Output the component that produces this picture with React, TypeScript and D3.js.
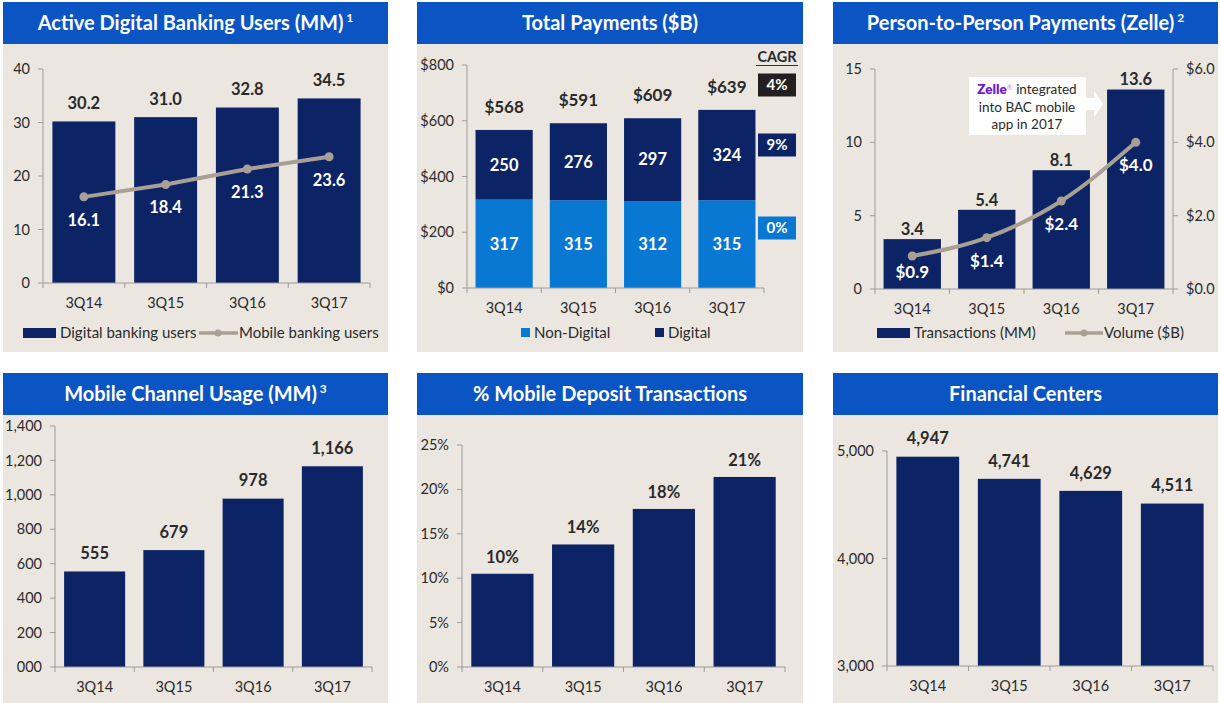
import React from 'react';
import * as d3 from 'd3';

// ---------- DATA ----------
const categories = ['3Q14', '3Q15', '3Q16', '3Q17'];

const digitalUsers = [30.2, 31.0, 32.8, 34.5];
const mobileUsers = [16.1, 18.4, 21.3, 23.6];
const usersTicks = [0, 10, 20, 30, 40];

const nonDigitalPayments = [317, 315, 312, 315];
const digitalPayments = [250, 276, 297, 324];
const totalPayments = [568, 591, 609, 639];
const paymentTicks = [0, 200, 400, 600, 800];
const cagrLabels = ['4%', '9%', '0%'];

const zelleTransactions = [3.4, 5.4, 8.1, 13.6];
const zelleVolume = [0.9, 1.4, 2.4, 4.0];
const zelleLeftTicks = [0, 5, 10, 15];
const zelleRightTicks = [0, 2, 4, 6];

const mobileUsage = [555, 679, 978, 1166];
const mobileUsageTicks = [0, 200, 400, 600, 800, 1000, 1200, 1400];
const mobileUsageTickLabels = ['000', '200', '400', '600', '800', '1,000', '1,200', '1,400'];

const mobileDepositPct = [10.5, 13.8, 17.8, 21.4];
const mobileDepositLabels = ['10%', '14%', '18%', '21%'];
const depositTicks = [0, 5, 10, 15, 20, 25];

const financialCenters = [4947, 4741, 4629, 4511];
const centerTicks = [3000, 4000, 5000];

// ---------- STYLE ----------
const FONT = 'Lato, "Open Sans", sans-serif';
const HEADER = '#0a54c3';
const BODY = '#ebe7e0';
const NAVY = '#0c2366';
const LIGHT = '#0878d3';
const GREY_LINE = '#a8a094';
const AXIS = '#9b9b9b';
const TXT = '#2a2a2a';

const fmtComma = d3.format(',');

type Plot = { x0: number; x1: number; yb: number; yt: number };

function band(p: Plot) {
  return d3.scaleBand<string>().domain(categories).range([p.x0, p.x1]).paddingInner(0.23).paddingOuter(0.115);
}

function Frame({ x, w, top, headH, bottom, title, sup }: any) {
  return (
    <g>
      <rect x={x} y={headH + top} width={w} height={bottom - top - headH} fill={BODY} />
      <rect x={x} y={top} width={w} height={headH} fill={HEADER} />
      <text x={x + w / 2} y={top + headH / 2} dy="0.35em" textAnchor="middle" fill="#fff" fontFamily={FONT}
        fontWeight={700} fontSize={20}>
        {title}
        {sup ? <tspan fontSize={12} dy="-0.7em">{' ' + sup}</tspan> : null}
      </text>
    </g>
  );
}

function YAxis({ p, scale, ticks, labels, side = 'left' }: any) {
  const ax = side === 'left' ? p.x0 : p.x1;
  const dir = side === 'left' ? -1 : 1;
  return (
    <g>
      <line x1={ax} x2={ax} y1={p.yt} y2={p.yb} stroke={AXIS} strokeWidth={1} />
      {ticks.map((t: number, i: number) => (
        <g key={i}>
          <line x1={ax} x2={ax + dir * 5} y1={scale(t)} y2={scale(t)} stroke={AXIS} />
          <text x={ax + dir * 13} y={scale(t)} dy="0.35em" textAnchor={side === 'left' ? 'end' : 'start'}
            fontFamily={FONT} fontSize={14.5} fill={TXT}>{labels[i]}</text>
        </g>
      ))}
    </g>
  );
}

function XAxis({ p, x }: any) {
  const step = x.step();
  const bounds = d3.range(categories.length + 1).map((i) => p.x0 + i * step);
  return (
    <g>
      <line x1={p.x0} x2={p.x1} y1={p.yb} y2={p.yb} stroke={AXIS} />
      {bounds.map((b, i) => <line key={i} x1={b} x2={b} y1={p.yb} y2={p.yb + 5} stroke={AXIS} />)}
      {categories.map((c) => (
        <text key={c} x={(x(c) as number) + x.bandwidth() / 2} y={p.yb + 20} dy="0.35em" textAnchor="middle"
          fontFamily={FONT} fontSize={14.5} fill={TXT}>{c}</text>
      ))}
    </g>
  );
}

function Label({ x, y, text, color = TXT, size = 16.5 }: any) {
  return (
    <text x={x} y={y} dy="0.35em" textAnchor="middle" fontFamily={FONT} fontWeight={700} fontSize={size} fill={color}>{text}</text>
  );
}

function SimpleBars({ p, values, domain, ticks, tickLabels, labels, labelGap = 18 }: any) {
  const x = band(p);
  const y = d3.scaleLinear().domain(domain).range([p.yb, p.yt]);
  return (
    <g>
      {values.map((v: number, i: number) => (
        <rect key={i} x={x(categories[i])} y={y(v)} width={x.bandwidth()} height={p.yb - y(v)} fill={NAVY} />
      ))}
      <YAxis p={p} scale={y} ticks={ticks} labels={tickLabels} />
      <XAxis p={p} x={x} />
      {values.map((v: number, i: number) => (
        <Label key={i} x={(x(categories[i]) as number) + x.bandwidth() / 2} y={y(v) - labelGap} text={labels[i]} />
      ))}
    </g>
  );
}

function Panel1() {
  const p: Plot = { x0: 43, x1: 370, yb: 283, yt: 69 };
  const x = band(p);
  const y = d3.scaleLinear().domain([0, 40]).range([p.yb, p.yt]);
  const cx = (i: number) => (x(categories[i]) as number) + x.bandwidth() / 2;
  const line = d3.line<number>().x((_, i) => cx(i)).y((d) => y(d));
  return (
    <g>
      {digitalUsers.map((v, i) => (
        <rect key={i} x={x(categories[i])} y={y(v)} width={x.bandwidth()} height={p.yb - y(v)} fill={NAVY} />
      ))}
      <YAxis p={p} scale={y} ticks={usersTicks} labels={usersTicks.map(String)} />
      <XAxis p={p} x={x} />
      <path d={line(mobileUsers) as string} fill="none" stroke={GREY_LINE} strokeWidth={4} />
      {mobileUsers.map((v, i) => <circle key={i} cx={cx(i)} cy={y(v)} r={4.5} fill={GREY_LINE} />)}
      {digitalUsers.map((v, i) => <Label key={'a' + i} x={cx(i)} y={y(v) - 18} text={v.toFixed(1)} />)}
      {mobileUsers.map((v, i) => <Label key={'b' + i} x={cx(i)} y={y(v) + 23} text={v.toFixed(1)} color="#fff" />)}
      {/* legend */}
      <rect x={23} y={328} width={33} height={10} fill={NAVY} />
      <text x={60} y={333} dy="0.35em" fontFamily={FONT} fontSize={15} fill={TXT}>Digital banking users</text>
      <line x1={199} x2={238} y1={333} y2={333} stroke={GREY_LINE} strokeWidth={3.5} />
      <circle cx={218} cy={333} r={3.5} fill={GREY_LINE} />
      <text x={239} y={333} dy="0.35em" fontFamily={FONT} fontSize={15} fill={TXT}>Mobile banking users</text>
    </g>
  );
}

function Panel2() {
  const p: Plot = { x0: 467, x1: 764, yb: 288, yt: 65 };
  const x = band(p);
  const y = d3.scaleLinear().domain([0, 800]).range([p.yb, p.yt]);
  const cx = (i: number) => (x(categories[i]) as number) + x.bandwidth() / 2;
  const boxFills = ['#231f20', NAVY, LIGHT];
  const boxY = [85, 145, 228];
  return (
    <g>
      {nonDigitalPayments.map((v, i) => (
        <rect key={'n' + i} x={x(categories[i])} y={y(v)} width={x.bandwidth()} height={p.yb - y(v)} fill={LIGHT} />
      ))}
      {digitalPayments.map((v, i) => (
        <rect key={'d' + i} x={x(categories[i])} y={y(v + nonDigitalPayments[i])} width={x.bandwidth()}
          height={y(nonDigitalPayments[i]) - y(v + nonDigitalPayments[i])} fill={NAVY} />
      ))}
      <YAxis p={p} scale={y} ticks={paymentTicks} labels={paymentTicks.map((t) => '$' + t)} />
      <XAxis p={p} x={x} />
      {nonDigitalPayments.map((v, i) => <Label key={'a' + i} x={cx(i)} y={y(v / 2)} text={String(v)} color="#fff" />)}
      {digitalPayments.map((v, i) => (
        <Label key={'b' + i} x={cx(i)} y={y(nonDigitalPayments[i] + v / 2)} text={String(v)} color="#fff" />
      ))}
      {totalPayments.map((v, i) => (
        <Label key={'c' + i} x={cx(i)} y={y(nonDigitalPayments[i] + digitalPayments[i]) - 23} text={'$' + v} size={17} />
      ))}
      {/* CAGR */}
      <Label x={777} y={57} text="CAGR" size={14.5} />
      <line x1={756} x2={798} y1={65.5} y2={65.5} stroke="#333" strokeWidth={1.2} />
      {cagrLabels.map((c, i) => (
        <g key={c}>
          <rect x={758} y={boxY[i] - 11.5} width={38} height={23} fill={boxFills[i]} />
          <Label x={777} y={boxY[i]} text={c} color="#fff" size={15} />
        </g>
      ))}
      {/* legend */}
      <rect x={521} y={328} width={9} height={9} fill={LIGHT} />
      <text x={534} y={332.5} dy="0.35em" fontFamily={FONT} fontSize={15} fill={TXT}>Non-Digital</text>
      <rect x={655} y={328} width={9} height={9} fill={NAVY} />
      <text x={668} y={332.5} dy="0.35em" fontFamily={FONT} fontSize={15} fill={TXT}>Digital</text>
    </g>
  );
}

function Panel3() {
  const p: Plot = { x0: 875, x1: 1173, yb: 289, yt: 69 };
  const x = band(p);
  const yL = d3.scaleLinear().domain([0, 15]).range([p.yb, p.yt]);
  const yR = d3.scaleLinear().domain([0, 6]).range([p.yb, p.yt]);
  const cx = (i: number) => (x(categories[i]) as number) + x.bandwidth() / 2;
  const line = d3.line<number>().x((_, i) => cx(i)).y((d) => yR(d)).curve(d3.curveMonotoneX);
  return (
    <g>
      {zelleTransactions.map((v, i) => (
        <rect key={i} x={x(categories[i])} y={yL(v)} width={x.bandwidth()} height={p.yb - yL(v)} fill={NAVY} />
      ))}
      <YAxis p={p} scale={yL} ticks={zelleLeftTicks} labels={zelleLeftTicks.map(String)} />
      <YAxis p={p} scale={yR} ticks={zelleRightTicks} labels={zelleRightTicks.map((t) => '$' + t.toFixed(1))} side="right" />
      <XAxis p={p} x={x} />
      <path d={line(zelleVolume) as string} fill="none" stroke={GREY_LINE} strokeWidth={4} />
      {zelleVolume.map((v, i) => <circle key={i} cx={cx(i)} cy={yR(v)} r={4.5} fill={GREY_LINE} />)}
      {zelleTransactions.map((v, i) => <Label key={'a' + i} x={cx(i)} y={yL(v) - 10} text={v.toFixed(1)} />)}
      {zelleVolume.map((v, i) => (
        <Label key={'b' + i} x={cx(i)} y={Math.min(yR(v) + 23, p.yb - 17)} text={'$' + v.toFixed(1)} color="#fff" size={17} />
      ))}
      {/* annotation */}
      <rect x={969} y={77} width={117} height={58} fill="#fff" />
      <polygon points="1086,98 1094,98 1094,91 1103,104 1094,117 1094,110 1086,110" fill="#fff" />
      <text x={1027} y={89} dy="0.35em" textAnchor="middle" fontFamily={FONT} fontSize={13.5} fill={TXT}>
        <tspan fill="#6d1ed4" fontWeight={800}>Zelle</tspan>
        <tspan fill="#b08be0" fontSize={7} dy="-0.6em">®</tspan>
        <tspan dy="0.35em">{' integrated'}</tspan>
      </text>
      <text x={1027} y={107} dy="0.35em" textAnchor="middle" fontFamily={FONT} fontSize={13.5} fill={TXT}>into BAC mobile</text>
      <text x={1027} y={124} dy="0.35em" textAnchor="middle" fontFamily={FONT} fontSize={13.5} fill={TXT}>app in 2017</text>
      {/* legend */}
      <rect x={877} y={328} width={33} height={10} fill={NAVY} />
      <text x={914} y={333} dy="0.35em" fontFamily={FONT} fontSize={15} fill={TXT}>Transactions (MM)</text>
      <line x1={1065} x2={1103} y1={333} y2={333} stroke={GREY_LINE} strokeWidth={3.5} />
      <circle cx={1084} cy={333} r={3.5} fill={GREY_LINE} />
      <text x={1104} y={333} dy="0.35em" fontFamily={FONT} fontSize={15} fill={TXT}>Volume ($B)</text>
    </g>
  );
}

export default function App() {
  return (
    <div style={{ position: 'absolute', left: 0, top: 0 }}>
      <svg width={1220} height={703} viewBox="0 0 1220 703" style={{ display: 'block', background: '#fff' }}>
        <Frame x={3} w={385} top={2} headH={42} bottom={352} title="Active Digital Banking Users (MM)" sup="1" />
        <Frame x={417} w={386} top={2} headH={42} bottom={352} title="Total Payments ($B)" />
        <Frame x={833} w={385} top={2} headH={42} bottom={352} title="Person-to-Person Payments (Zelle)" sup="2" />
        <Frame x={3} w={385} top={373} headH={42} bottom={703} title="Mobile Channel Usage (MM)" sup="3" />
        <Frame x={417} w={386} top={373} headH={42} bottom={703} title="% Mobile Deposit Transactions" />
        <Frame x={833} w={385} top={373} headH={42} bottom={703} title="Financial Centers" />
        <Panel1 />
        <Panel2 />
        <Panel3 />
        <SimpleBars p={{ x0: 55, x1: 372, yb: 667, yt: 426 }} values={mobileUsage} domain={[0, 1400]}
          ticks={mobileUsageTicks} tickLabels={mobileUsageTickLabels} labels={mobileUsage.map(fmtComma)} />
        <SimpleBars p={{ x0: 462, x1: 785, yb: 667, yt: 445 }} values={mobileDepositPct} domain={[0, 25]}
          ticks={depositTicks} tickLabels={depositTicks.map((t) => t + '%')} labels={mobileDepositLabels} labelGap={17} />
        <SimpleBars p={{ x0: 887, x1: 1213, yb: 666, yt: 451 }} values={financialCenters} domain={[3000, 5000]}
          ticks={centerTicks} tickLabels={centerTicks.map(fmtComma)} labels={financialCenters.map(fmtComma)} />
      </svg>
    </div>
  );
}
